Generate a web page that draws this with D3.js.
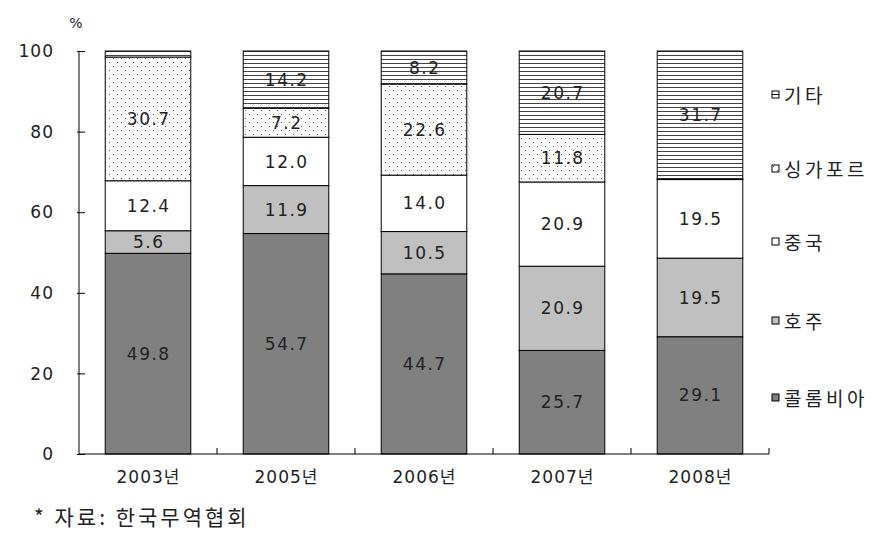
<!DOCTYPE html>
<html><head><meta charset="utf-8">
<script src="https://cdn.jsdelivr.net/npm/d3@7"></script>
<style>body{margin:0;background:#fff}svg{display:block}</style>
</head><body>
<svg id="c" width="894" height="547"></svg>
<script>
const years = ["2003년","2005년","2006년","2007년","2008년"];
const seriesNames = ["콜롬비아","호주","중국","싱가포르","기타"];
const colombia = [49.8, 54.7, 44.7, 25.7, 29.1];
const australia = [5.6, 11.9, 10.5, 20.9, 19.5];
const china = [12.4, 12.0, 14.0, 20.9, 19.5];
const singapore = [30.7, 7.2, 22.6, 11.8, 0.2];
const others = [1.5, 14.2, 8.2, 20.7, 31.7];
const showLabel = [[1,1,1,1,1],[1,1,1,1,1],[1,1,1,1,1],[1,1,1,1,0],[0,1,1,1,1]];
const yTicks = [0,20,40,60,80,100];

const svg = d3.select("#c");
const defs = svg.append("defs");
const dots = defs.append("pattern").attr("id","dots").attr("patternUnits","userSpaceOnUse")
  .attr("width",8).attr("height",8);
dots.append("rect").attr("width",8).attr("height",8).attr("fill","#fff");
dots.append("rect").attr("x",1).attr("y",2).attr("width",1).attr("height",1).attr("fill","#555");
dots.append("rect").attr("x",5).attr("y",6).attr("width",1).attr("height",1).attr("fill","#555");
const lines = defs.append("pattern").attr("id","hl").attr("patternUnits","userSpaceOnUse")
  .attr("width",8).attr("height",4);
lines.append("rect").attr("width",8).attr("height",4).attr("fill","#fff");
lines.append("rect").attr("y",3).attr("width",8).attr("height",1).attr("fill","#444");

const fills = ["#808080","#c0c0c0","#ffffff","url(#dots)","url(#hl)"];
const data = [colombia, australia, china, singapore, others];
const numFont = "DejaVu Sans, sans-serif";

const x = d3.scaleBand().domain(years).range([79, 769]).paddingInner(0.38).paddingOuter(0.19);
const y = d3.scaleLinear().domain([0,100]).range([454, 51]);

const stackData = years.map((yr,i)=>{
  const o = {year: yr};
  seriesNames.forEach((s,k)=>o[s]=data[k][i]);
  return o;
});
const stacked = d3.stack().keys(seriesNames)(stackData);

const g = svg.append("g");
stacked.forEach((layer,k)=>{
  g.selectAll(null).data(layer).enter().append("rect")
    .attr("x",d=>x(d.data.year)).attr("width",x.bandwidth())
    .attr("y",d=>y(d[1])).attr("height",d=>y(d[0])-y(d[1]))
    .attr("fill",fills[k]).attr("stroke","#000").attr("stroke-width",1);
});
stacked.forEach((layer,k)=>{
  g.selectAll(null).data(layer.filter((d,i)=>showLabel[k][i])).enter().append("text")
    .attr("x",d=>x(d.data.year)+x.bandwidth()/2+0.75)
    .attr("y",d=>(y(d[0])+y(d[1]))/2)
    .attr("dy","0.36em").attr("text-anchor","middle")
    .attr("font-family",numFont).attr("font-size",17).attr("letter-spacing",1.5)
    .attr("fill","#222")
    .text(d=>(d[1]-d[0]).toFixed(1));
});

// axes
const yAxis = d3.axisRight(y).tickValues(yTicks).tickSize(6).tickFormat("");
const ya = svg.append("g").attr("transform","translate(79,0)").call(yAxis);
ya.select(".domain").remove();
ya.selectAll(".tick line").attr("x1",-2).attr("stroke","#000");
svg.append("line").attr("x1",79).attr("x2",79).attr("y1",51).attr("y2",454).attr("stroke","#000");
svg.selectAll(".ylab").data(yTicks).enter().append("text")
  .attr("x",54).attr("y",d=>y(d)).attr("dy","0.36em").attr("text-anchor","end")
  .attr("font-family",numFont).attr("font-size",17).attr("letter-spacing",1)
  .attr("fill","#222").text(d=>d);
svg.append("text").attr("x",76).attr("y",28).attr("text-anchor","middle")
  .attr("font-family",numFont).attr("font-size",14).attr("fill","#222").text("%");

svg.append("line").attr("x1",79).attr("x2",769).attr("y1",454).attr("y2",454).attr("stroke","#000");
const seps = years.slice(1).map((yr,i)=> (x(years[i])+x.bandwidth()+x(yr))/2);
svg.selectAll(".sep").data(seps).enter().append("line")
  .attr("x1",d=>d).attr("x2",d=>d).attr("y1",454).attr("y2",448).attr("stroke","#000");
svg.append("line").attr("x1",769).attr("x2",769).attr("y1",454).attr("y2",448).attr("stroke","#000");

svg.selectAll(".xlab").data(years).enter().append("text")
  .attr("x",d=>x(d)+x.bandwidth()/2+0.5).attr("y",483).attr("text-anchor","middle")
  .attr("font-family","DejaVu Sans, Noto Sans CJK KR, sans-serif").attr("font-size",17)
  .attr("letter-spacing",1).attr("fill","#222")
  .text(d=>d);

// legend
const legY = [399, 322, 243, 170, 96];
seriesNames.forEach((s,k)=>{
  svg.append("rect").attr("x",772).attr("y",legY[k]-5).attr("width",7).attr("height",7)
    .attr("fill",k===4?"#fff":fills[k]).attr("stroke","#000").attr("stroke-width",1);
  if(k===4){
    svg.append("line").attr("x1",772).attr("x2",779).attr("y1",legY[k]-1.5).attr("y2",legY[k]-1.5).attr("stroke","#000");
  }
  svg.append("text").attr("x",784).attr("y",legY[k]).attr("dy","0.36em")
    .attr("font-family","Noto Sans CJK KR, sans-serif").attr("font-size",19)
    .attr("letter-spacing",3.5).attr("fill","#222").text(s);
});

svg.append("text").attr("x",34).attr("y",525)
  .attr("font-family","Noto Sans CJK KR, sans-serif").attr("font-size",21)
  .attr("letter-spacing",3).attr("fill","#222")
  .text("* 자료:  한국무역협회");
</script>
</body></html>
